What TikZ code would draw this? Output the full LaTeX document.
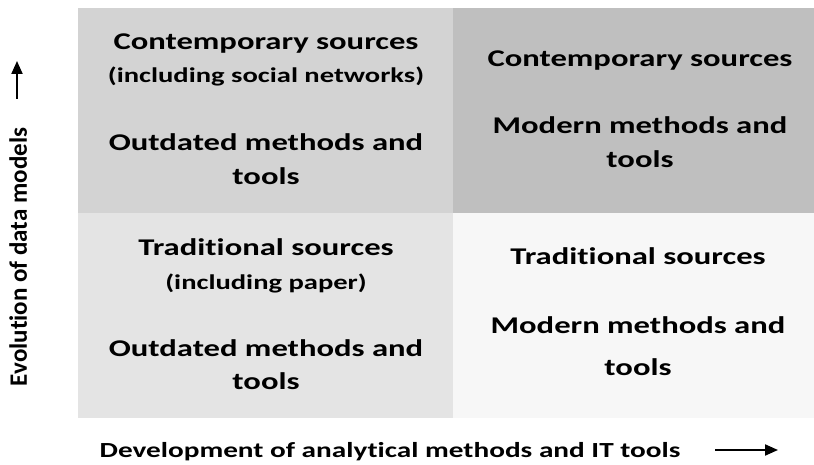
\documentclass[tikz,border=0pt]{standalone}
\usepackage{fontspec}
\setmainfont[Ligatures=NoCommon]{Carlito}
% the quadrant texts are set a little wider than the plain face
\newfontfamily\widefont[FakeStretch=1.36,Ligatures=NoCommon]{Carlito}
\usetikzlibrary{arrows.meta,positioning}

\definecolor{tlgrey}{RGB}{211,211,211}
\definecolor{trgrey}{RGB}{191,191,191}
\definecolor{blgrey}{RGB}{228,228,228}
\definecolor{brgrey}{RGB}{247,247,247}

\begin{document}
\begin{tikzpicture}[%
    x=1pt, y=-1pt,              % pixel-like units, y running downwards
    >={Triangle[length=13pt,width=11pt]}, % filled heads on both axes
    ]
% -------------------------------------------------
% Styles for the four fields and their texts
\tikzset{
  field/.style={anchor=north west, inner sep=0pt, outer sep=0pt,
    minimum height=205},
  big/.style={anchor=base, inner sep=0pt,
    font=\widefont\bfseries\fontsize{24}{34}\selectfont},
  small/.style={anchor=base, inner sep=0pt,
    font=\widefont\bfseries\fontsize{21}{30}\selectfont},
  axislabel/.style={anchor=base, inner sep=0pt,
    font=\widefont\bfseries\fontsize{21.5}{30}\selectfont},
  axis/.style={->, line width=2pt}
}
\useasboundingbox (0,0) rectangle (814,465);
% -------------------------------------------------
% The four fields
\node [field, fill=tlgrey, minimum width=375] (tl) at (78,8) {};
\node [field, fill=trgrey, minimum width=361, right=0pt of tl.north east, anchor=north west] (tr) {};
\node [field, fill=blgrey, minimum width=375, below=0pt of tl.south west, anchor=north west] (bl) {};
\node [field, fill=brgrey, minimum width=361, below=0pt of tr.south west, anchor=north west] (br) {};

% Upper left: contemporary sources, outdated tools
\node [big]   (tl1) at (266,50)  {Contemporary sources};
\node [small] (tl2) at (266,83)  {(including social networks)};
\node [big]   (tl3) at (266,151) {Outdated methods and};
\node [big]   (tl4) at (266,185) {tools};

% Upper right: contemporary sources, modern tools
\node [big] (tr1) at (640,67)  {Contemporary sources};
\node [big] (tr2) at (640,134) {Modern methods and};
\node [big] (tr3) at (640,168) {tools};

% Lower left: traditional sources, outdated tools
\node [big]   (bl1) at (266,255) {Traditional sources};
\node [small] (bl2) at (266,289) {(including paper)};
\node [big]   (bl3) at (266,356) {Outdated methods and};
\node [big]   (bl4) at (266,389) {tools};

% Lower right: traditional sources, modern tools
\node [big] (br1) at (638,265) {Traditional sources};
\node [big] (br2) at (638,333) {Modern methods and};
\node [big] (br3) at (638,375) {tools};

% -------------------------------------------------
% Axes
\node [axislabel] (xlabel) at (390,457) {Development of analytical methods and IT tools};
\coordinate (xa) at (715,450);
\coordinate (xb) at (778,450);
\draw [axis] (xa) -- (xb);

\node [axislabel, rotate=90, font=\bfseries\fontsize{25}{30}\selectfont] (ylabel) at (27,257)
  {Evolution of data models};
\coordinate (ya) at (17,99);
\coordinate (yb) at (17,61);
\draw [axis] (ya) -- (yb);
\end{tikzpicture}
\end{document}
